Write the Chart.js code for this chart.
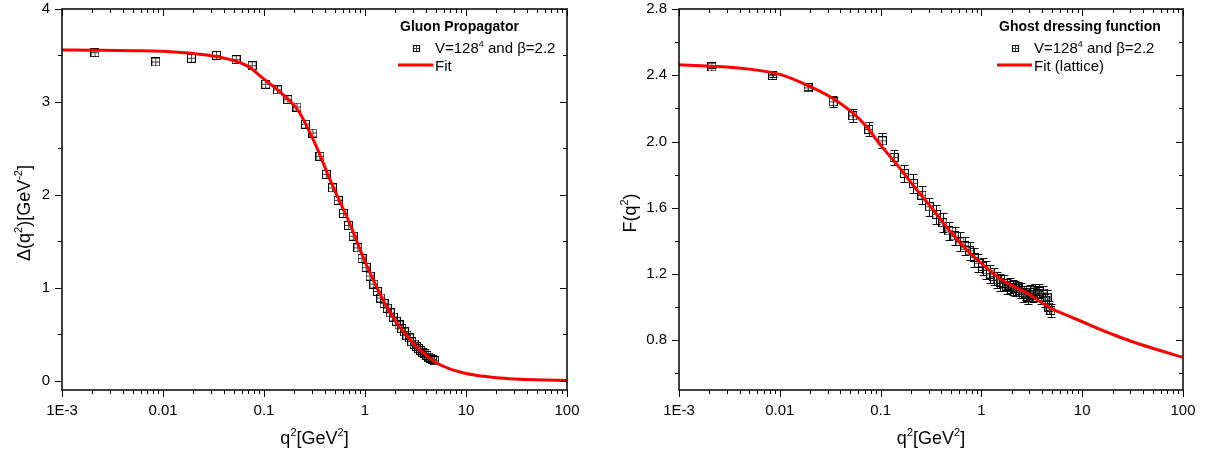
<!DOCTYPE html>
<html>
<head>
<meta charset="utf-8">
<script src="https://cdn.jsdelivr.net/npm/chart.js@4.4.1/dist/chart.umd.min.js"></script>
<style>
html, body { margin: 0; padding: 0; background: #fff; }
#wrap { position: relative; width: 1205px; height: 457px; }
canvas { position: absolute; top: 0; }
</style>
</head>
<body>
<div id="wrap">
<canvas id="gluon" width="600" height="457" style="left:0"></canvas>
<canvas id="ghost" width="605" height="457" style="left:600px"></canvas>
</div>
<script>
// lattice momenta q^2 [GeV^2] (V=128^4, beta=2.2)
var latticeQ2 = [0.00212, 0.00848, 0.0191, 0.0339, 0.053, 0.0763, 0.104, 0.136, 0.172, 0.212,
    0.257, 0.305, 0.358, 0.415, 0.477, 0.543, 0.613, 0.687, 0.765, 0.848,
    0.935, 1.026, 1.121, 1.221, 1.325, 1.433, 1.545, 1.662, 1.783, 1.908,
    2.037, 2.171, 2.309, 2.451, 2.597, 2.748, 2.902, 3.061, 3.225, 3.392,
    3.564, 3.740, 3.920, 4.104, 4.293, 4.486, 4.683, 4.885];

// gluon propagator Delta(q^2)
var gluonProp = [3.53, 3.43, 3.47, 3.50, 3.455, 3.39, 3.19, 3.13, 3.025, 2.945,
    2.76, 2.665, 2.415, 2.22, 2.075, 1.94, 1.80, 1.67, 1.555, 1.43,
    1.315, 1.22, 1.125, 1.04, 0.96, 0.89, 0.83, 0.78, 0.73, 0.685,
    0.64, 0.60, 0.56, 0.525, 0.49, 0.46, 0.42, 0.395, 0.37, 0.345,
    0.325, 0.305, 0.29, 0.272, 0.255, 0.242, 0.228, 0.215];

// ghost dressing function F(q^2) and its errors
var ghostDress = [2.45, 2.398, 2.324, 2.24, 2.155, 2.073, 2.004, 1.904, 1.807, 1.747,
    1.676, 1.606, 1.56, 1.51, 1.46, 1.43, 1.395, 1.37, 1.34, 1.30,
    1.265, 1.245, 1.225, 1.20, 1.185, 1.165, 1.15, 1.145, 1.125, 1.13,
    1.12, 1.115, 1.11, 1.10, 1.075, 1.085, 1.06, 1.09, 1.075, 1.10,
    1.08, 1.095, 1.06, 1.085, 1.04, 1.06, 1.00, 0.98];
var ghostErr = [0.008, 0.01, 0.015, 0.034, 0.039, 0.042, 0.045, 0.047, 0.052, 0.055,
    0.055, 0.056, 0.057, 0.057, 0.056, 0.056, 0.056, 0.055, 0.055, 0.055,
    0.054, 0.053, 0.052, 0.052, 0.05, 0.05, 0.05, 0.048, 0.048, 0.046,
    0.045, 0.045, 0.044, 0.044, 0.043, 0.043, 0.042, 0.042, 0.042, 0.042,
    0.042, 0.042, 0.041, 0.041, 0.041, 0.041, 0.04, 0.04];

// fit curves
var fitQ2 = [0.001, 0.002, 0.005, 0.01, 0.02, 0.03, 0.05, 0.07, 0.1, 0.15,
    0.22, 0.32, 0.47, 0.7, 1.0, 1.5, 2, 3, 4, 5,
    7, 10, 15, 20, 30, 50, 100];
var gluonFit = [3.56, 3.557, 3.552, 3.545, 3.52, 3.497, 3.445, 3.38, 3.245, 3.09,
    2.90, 2.55, 2.115, 1.70, 1.28, 0.875, 0.64, 0.40, 0.275, 0.195,
    0.125, 0.078, 0.047, 0.032, 0.019, 0.009, 0.003];
var ghostFit = [2.463, 2.455, 2.437, 2.405, 2.332, 2.278, 2.185, 2.10, 1.978, 1.85,
    1.72, 1.60, 1.47, 1.35, 1.265, 1.175, 1.13, 1.075, 1.025, 0.99,
    0.952, 0.912, 0.866, 0.836, 0.796, 0.752, 0.697];

var xTickVals = [0.001, 0.01, 0.1, 1, 10, 100];
var xTickLabels = ['1E-3', '0.01', '0.1', '1', '10', '100'];
var gluonTicks = [0, 1, 2, 3, 4];
var gluonTickLabels = ['0', '1', '2', '3', '4'];
var gluonMinor = [0.5, 1.5, 2.5, 3.5];
var ghostTicks = [0.8, 1.2, 1.6, 2.0, 2.4, 2.8];
var ghostTickLabels = ['0.8', '1.2', '1.6', '2.0', '2.4', '2.8'];
var ghostMinor = [0.6, 1.0, 1.4, 1.8, 2.2, 2.6];

var FONT = '"Liberation Sans", Arial, sans-serif';

function makeMarker(size) {
    var c = document.createElement('canvas');
    c.width = size;
    c.height = size;
    var g = c.getContext('2d');
    var m = Math.floor(size / 2) + 0.5;
    g.strokeStyle = '#444';
    g.lineWidth = 1;
    g.beginPath();
    g.moveTo(m, 1); g.lineTo(m, size - 1);
    g.moveTo(1, m); g.lineTo(size - 1, m);
    g.stroke();
    g.strokeStyle = '#000';
    g.strokeRect(0.5, 0.5, size - 1, size - 1);
    return c;
}
var plotMarker = makeMarker(9);
var legendMarker = makeMarker(7);

// text with superscripts; parts = [[text, isSup], ...]
function richWidth(ctx, parts, size, weight) {
    var w = 0;
    parts.forEach(function (p) {
        ctx.font = (weight || '') + ' ' + (p[1] ? Math.round(size * 0.62) : size) + 'px ' + FONT;
        w += ctx.measureText(p[0]).width;
    });
    return w;
}
function richText(ctx, parts, x, y, size, weight) {
    ctx.textBaseline = 'alphabetic';
    ctx.textAlign = 'left';
    parts.forEach(function (p) {
        ctx.font = (weight || '') + ' ' + (p[1] ? Math.round(size * 0.62) : size) + 'px ' + FONT;
        ctx.fillText(p[0], x, p[1] ? y - size * 0.42 : y);
        x += ctx.measureText(p[0]).width;
    });
}

function makeChart(canvasId, cfg) {
    var decor = {
        id: 'decor',
        beforeDatasetsDraw: function (chart) {
            if (!cfg.err) return;
            var ctx = chart.ctx, xs = chart.scales.x, ys = chart.scales.y;
            ctx.save();
            ctx.strokeStyle = '#111';
            ctx.lineWidth = 1;
            ctx.beginPath();
            for (var i = 0; i < cfg.q2.length; i++) {
                var px = Math.round(xs.getPixelForValue(cfg.q2[i])) + 0.5;
                var y1 = Math.round(ys.getPixelForValue(cfg.vals[i] - cfg.err[i])) + 0.5;
                var y2 = Math.round(ys.getPixelForValue(cfg.vals[i] + cfg.err[i])) + 0.5;
                ctx.moveTo(px, y1); ctx.lineTo(px, y2);
                ctx.moveTo(px - 4, y1); ctx.lineTo(px + 4, y1);
                ctx.moveTo(px - 4, y2); ctx.lineTo(px + 4, y2);
            }
            ctx.stroke();
            ctx.restore();
        },
        afterDraw: function (chart) {
            var ctx = chart.ctx, a = chart.chartArea, xs = chart.scales.x, ys = chart.scales.y;
            ctx.save();
            ctx.strokeStyle = '#000';
            ctx.lineWidth = 1.5;
            ctx.strokeRect(a.left, a.top, a.right - a.left, a.bottom - a.top);
            ctx.lineWidth = 1;
            ctx.beginPath();
            function xt(v, len) {
                var p = Math.round(xs.getPixelForValue(v)) + 0.5;
                ctx.moveTo(p, a.bottom); ctx.lineTo(p, a.bottom + len);
                ctx.moveTo(p, a.top); ctx.lineTo(p, a.top + len);
            }
            function yt(v, len) {
                var p = Math.round(ys.getPixelForValue(v)) + 0.5;
                ctx.moveTo(a.left - len, p); ctx.lineTo(a.left, p);
                ctx.moveTo(a.right - len, p); ctx.lineTo(a.right, p);
            }
            xTickVals.forEach(function (v, i) {
                xt(v, 7);
                if (i < xTickVals.length - 1) {
                    for (var m = 2; m <= 9; m++) xt(v * m, 4);
                }
            });
            cfg.yTicks.forEach(function (v) { yt(v, 7); });
            cfg.yMinor.forEach(function (v) { yt(v, 4); });
            ctx.stroke();

            // axis titles
            ctx.fillStyle = '#000';
            var xTitle = [['q', 0], ['2', 1], ['[GeV', 0], ['2', 1], [']', 0]];
            var w = richWidth(ctx, xTitle, 18);
            richText(ctx, xTitle, (a.left + a.right) / 2 - w / 2, 444, 18);
            ctx.save();
            ctx.translate(cfg.yTitleX, 213);
            ctx.rotate(-Math.PI / 2);
            w = richWidth(ctx, cfg.yTitle, 18);
            richText(ctx, cfg.yTitle, -w / 2, 0, 18);
            ctx.restore();

            // legend
            var L = cfg.legend;
            richText(ctx, [[L.title, 0]], L.x + 2, 31, 14, 'bold');
            ctx.drawImage(legendMarker, L.x + 15, 45);
            richText(ctx, [['V=128', 0], ['4', 1], [' and \u03b2=2.2', 0]], L.x + 37, 53, 15);
            ctx.strokeStyle = '#ff0000';
            ctx.lineWidth = 3;
            ctx.beginPath();
            ctx.moveTo(L.x, 65); ctx.lineTo(L.x + 35, 65);
            ctx.stroke();
            ctx.fillStyle = '#000';
            richText(ctx, [[chart.data.datasets[0].label, 0]], L.x + 37, 71, 15);
            ctx.restore();
        }
    };

    var ptsData = cfg.q2.map(function (q, i) { return { x: q, y: cfg.vals[i] }; });
    var fitData = fitQ2.map(function (q, i) { return { x: q, y: cfg.fit[i] }; });

    return new Chart(document.getElementById(canvasId).getContext('2d'), {
        type: 'line',
        data: {
            datasets: [{
                label: cfg.fitLabel,
                data: fitData,
                borderColor: '#ff0000',
                borderWidth: 3,
                pointRadius: 0,
                cubicInterpolationMode: 'monotone',
                fill: false,
                order: 0
            }, {
                label: 'V=128^4 and beta=2.2',
                data: ptsData,
                showLine: false,
                pointStyle: plotMarker,
                pointRadius: 4,
                order: 1
            }]
        },
        options: {
            responsive: false,
            animation: false,
            events: [],
            layout: { padding: { left: 0, top: 9, right: cfg.padRight, bottom: 0 } },
            plugins: { legend: { display: false }, tooltip: { enabled: false } },
            scales: {
                x: {
                    type: 'logarithmic',
                    min: 0.001,
                    max: 100,
                    grid: { display: false },
                    border: { display: false },
                    afterFit: function (s) {
                        s.height = 67;
                        s.paddingLeft = 0;
                        s.paddingRight = 0;
                    },
                    afterBuildTicks: function (s) {
                        s.ticks = xTickVals.map(function (v) { return { value: v }; });
                    },
                    ticks: {
                        autoSkip: false,
                        maxRotation: 0,
                        minRotation: 0,
                        padding: 4,
                        color: '#000',
                        font: { family: FONT, size: 15 },
                        callback: function (v, i) { return xTickLabels[i]; }
                    }
                },
                y: {
                    type: 'linear',
                    min: cfg.yMin,
                    max: cfg.yMax,
                    grid: { display: false },
                    border: { display: false },
                    afterFit: function (s) {
                        s.width = cfg.yWidth;
                        s.paddingTop = 0;
                        s.paddingBottom = 0;
                    },
                    afterBuildTicks: function (s) {
                        s.ticks = cfg.yTicks.map(function (v) { return { value: v }; });
                    },
                    ticks: {
                        autoSkip: false,
                        padding: 4,
                        color: '#000',
                        font: { family: FONT, size: 15 },
                        callback: function (v, i) { return cfg.yLabels[i]; }
                    }
                }
            }
        },
        plugins: [decor]
    });
}

var gluonChart = makeChart('gluon', {
    q2: latticeQ2, vals: gluonProp, err: null, fit: gluonFit, fitLabel: 'Fit',
    yMin: -0.1, yMax: 4, yTicks: gluonTicks, yLabels: gluonTickLabels, yMinor: gluonMinor,
    yWidth: 62, padRight: 33, yTitleX: 29.5,
    yTitle: [['\u0394(q', 0], ['2', 1], [')[GeV', 0], ['-2', 1], [']', 0]],
    legend: { x: 398, title: 'Gluon Propagator' }
});

var ghostChart = makeChart('ghost', {
    q2: latticeQ2, vals: ghostDress, err: ghostErr, fit: ghostFit, fitLabel: 'Fit (lattice)',
    yMin: 0.5, yMax: 2.8, yTicks: ghostTicks, yLabels: ghostTickLabels, yMinor: ghostMinor,
    yWidth: 79, padRight: 22, yTitleX: 36,
    yTitle: [['F(q', 0], ['2', 1], [')', 0]],
    legend: { x: 397, title: 'Ghost dressing function' }
});
</script>
</body>
</html>
